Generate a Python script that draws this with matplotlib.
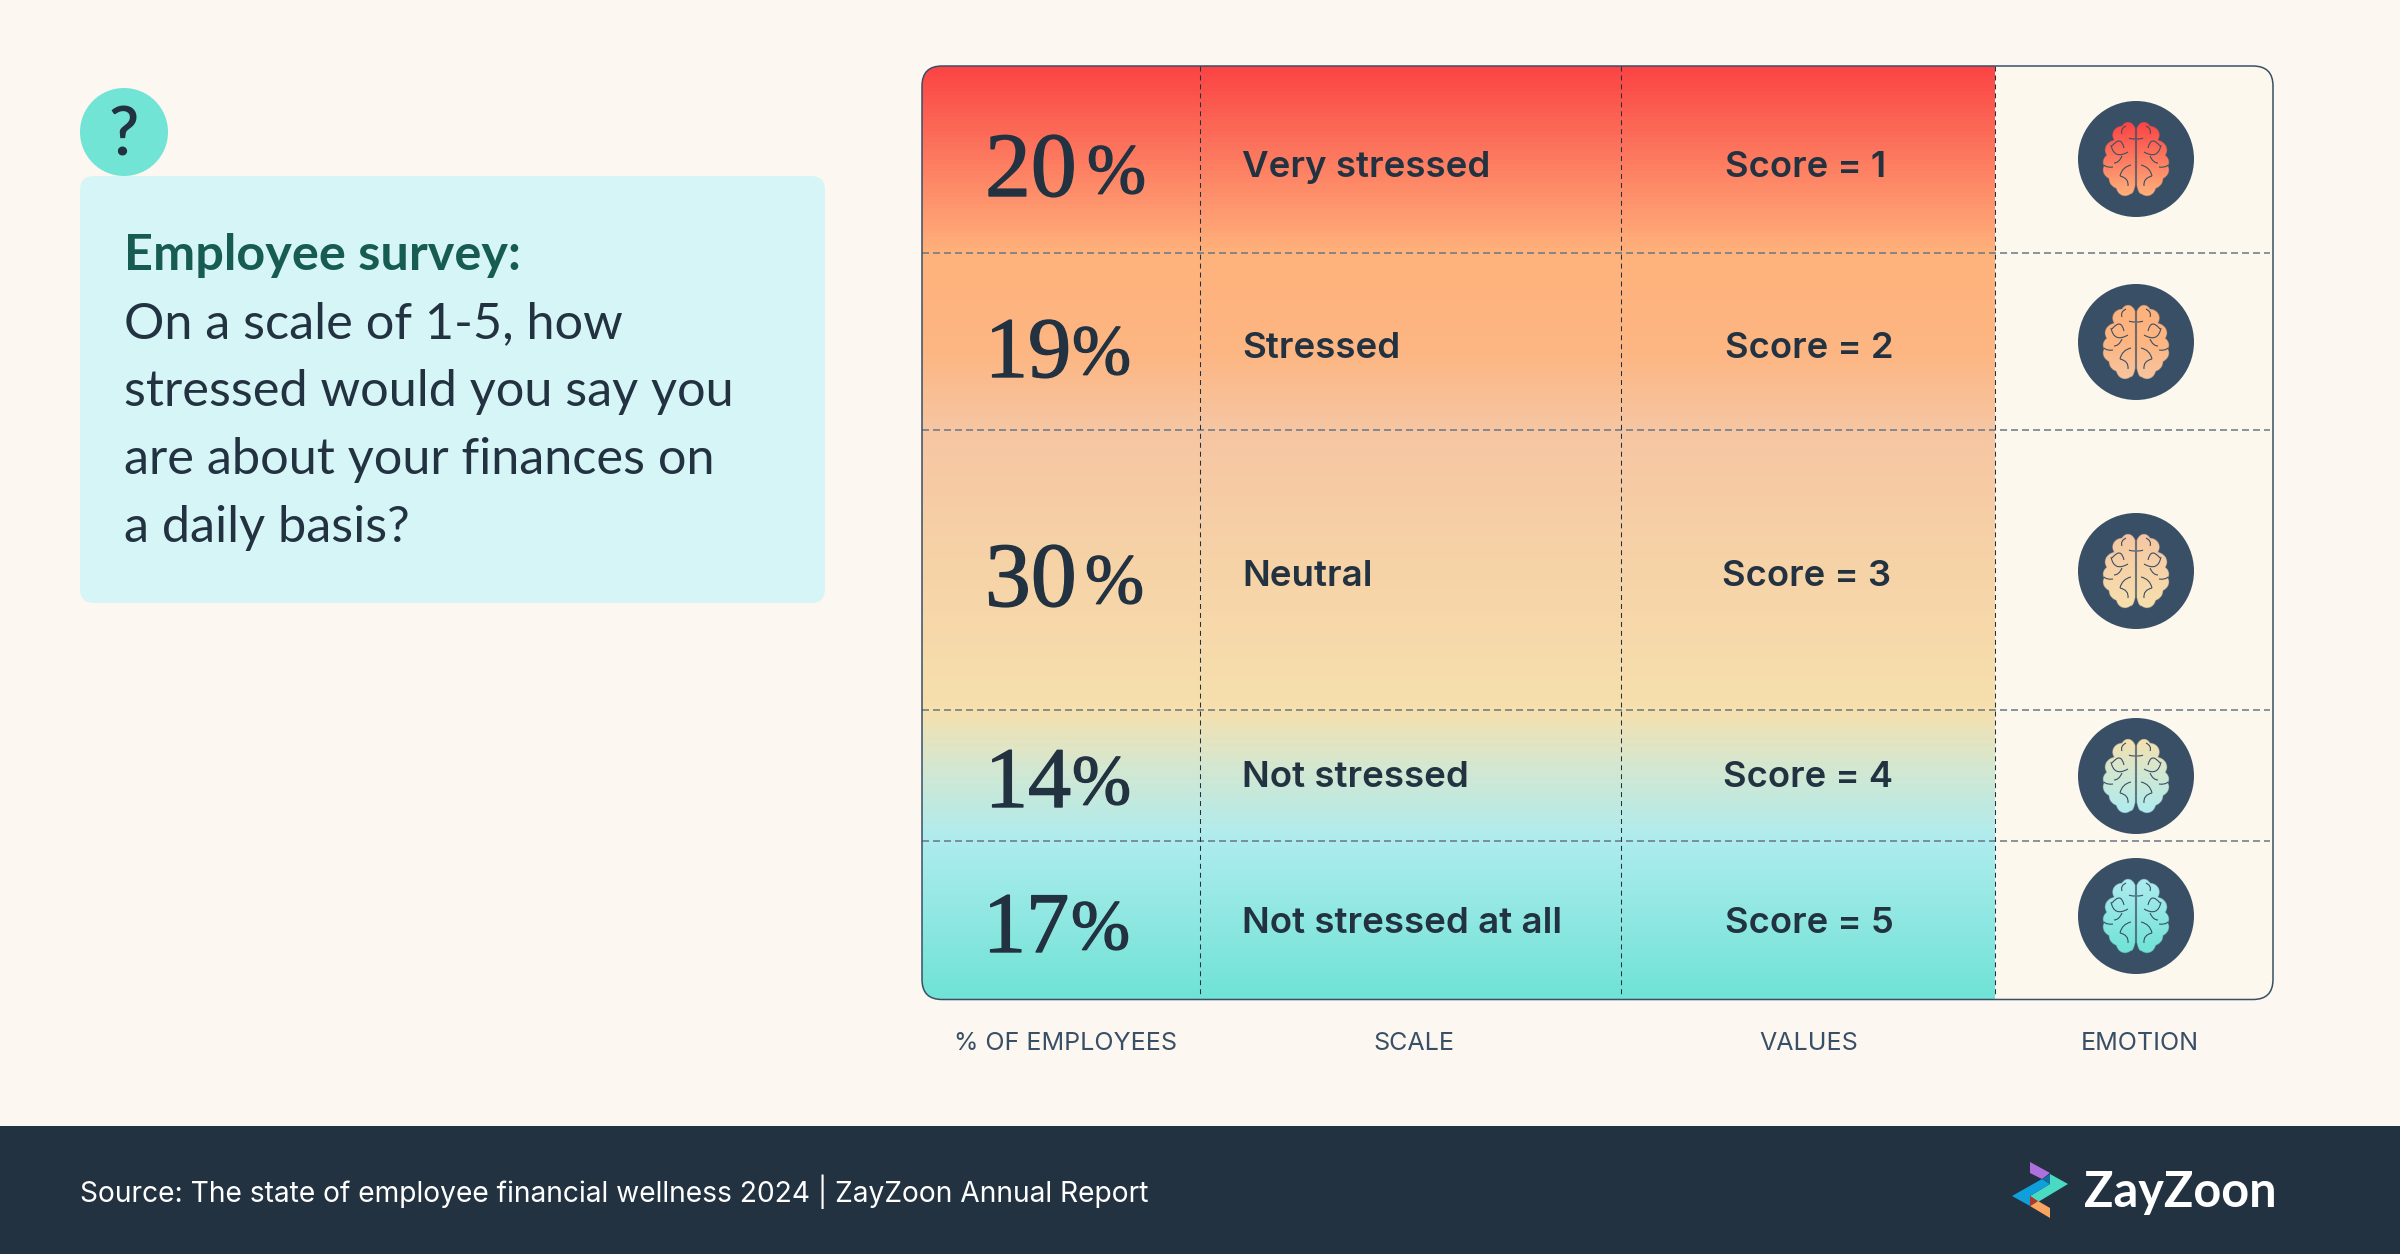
import numpy as np
import matplotlib
matplotlib.use("Agg")
import matplotlib.pyplot as plt
import matplotlib.patheffects as pe
from matplotlib.patches import FancyBboxPatch, Circle, Polygon, Rectangle, PathPatch
from matplotlib.path import Path
from matplotlib.colors import LinearSegmentedColormap

percentages = [20, 19, 30, 14, 17]
scale_labels = ["Very stressed", "Stressed", "Neutral", "Not stressed", "Not stressed at all"]
value_labels = ["Score = 1", "Score = 2", "Score = 3", "Score = 4", "Score = 5"]
column_labels = ["% OF EMPLOYEES", "SCALE", "VALUES", "EMOTION"]
question_title = "Employee survey:"
question_lines = ["On a scale of 1-5, how", "stressed would you say you", "are about your finances on", "a daily basis?"]
source_text = "Source: The state of employee financial wellness 2024 | ZayZoon Annual Report"

BG = "#FCF7F1"; DARK = "#233241"; NAVY = "#394F66"; CREAM = "#FCF8EE"
X0, X1, Y0, Y1 = 922, 2273, 66, 999.5
COLS = [1200, 1621, 1995]

fig = plt.figure(figsize=(24, 12.54), dpi=100, facecolor=BG)
ax = fig.add_axes([0, 0, 1, 1])
ax.set_xlim(0, 2400); ax.set_ylim(1254, 0); ax.axis("off")

edges = Y0 + np.concatenate([[0], np.cumsum(percentages)]) * (Y1 - Y0) / sum(percentages)

p = (edges - Y0) / (Y1 - Y0)
stop_pos = [p[0], p[1], (p[1] + p[2]) * 0.5 + 0.01, p[2], p[3], p[3] + 0.06, p[4], p[5]]
stops = ["#FB4444", "#FFB27C", "#FDB682", "#F6C6A2", "#F7E0AD", "#D6E7CF", "#AEECEF", "#70E3D6"]
cmap = LinearSegmentedColormap.from_list("g", list(zip(stop_pos, stops)))

frame = FancyBboxPatch((X0, Y0), X1 - X0, Y1 - Y0, boxstyle="round,pad=0,rounding_size=20",
                       fc=CREAM, ec="none", zorder=1)
ax.add_patch(frame)
im = ax.imshow(np.linspace(0, 1, 934)[:, None], cmap=cmap, vmin=0, vmax=1, aspect="auto",
               extent=(X0, COLS[2], Y1, Y0), zorder=2)
im.set_clip_path(frame)
ax.set_xlim(0, 2400); ax.set_ylim(1254, 0)
ax.add_patch(FancyBboxPatch((X0, Y0), X1 - X0, Y1 - Y0, boxstyle="round,pad=0,rounding_size=20",
                            fc="none", ec=NAVY, lw=1.1, zorder=5))

for y in edges[1:-1]:
    ax.plot([X0, X1 - 3], [y, y], color="#6A7683", lw=1.1, dashes=(4.6, 2.6), zorder=4)
for x in COLS:
    ax.plot([x, x], [Y0, Y1 - 4], color="#223040", lw=0.75, dashes=(4.8, 3.8), zorder=4)

pct_font = ["Liberation Serif", "DejaVu Serif"]
pct_x = [985, 985, 985, 985, 983]
pct_end = [1146, 1131, 1144, 1131, 1130]
digit_size = [66, 62, 66, 62, 62]
pct_base = [196, 377, 606, 807, 952]
lab_base = [177, 358, 586, 787, 933]
val_x = [1725, 1725, 1722, 1723, 1725]
icon_y = [159, 342, 571, 776, 916]

# brain silhouette mask (a union of lobes on each side of the midline)
lobes = [(8, -26, 8, 11), (14, -24, 9.5, 9), (20, -9, 11, 10), (22, 3, 11, 9), (21, 11, 12, 10),
         (16, 20, 11, 10), (11, 27, 9, 10), (5, 5, 6, 30), (10, 0, 14, 30)]
def brain_mask(n=320, half=40):
    xs = np.linspace(-half, half, n)
    X, Y = np.meshgrid(xs, xs)
    m = np.zeros_like(X, bool)
    for cx, cy, rx, ry in lobes:
        m |= (((np.abs(X) - cx) / rx) ** 2 + ((Y - cy) / ry) ** 2) <= 1
    m &= np.abs(X) > 0.7
    return m
mask = brain_mask()
folds = [((10, -33), (16, -30), (14, -25)), ((1, -20), (6, -20), (7, -21)), ((24, -13), (15, -24), (12, -11)),
         ((8, -7), (22, 1), (25, -14)), ((14, -3), (17, 4), (22, 4)), ((23, 8), (29, 9), (32, 6)),
         ((5, 6), (14, 8), (16, 17)), ((16, 17), (7, 19), (8, 27))]

for i, yc in enumerate(icon_y):
    xc = 2136
    ax.add_patch(Circle((xc, yc), 58, fc=NAVY, ec="none", zorder=3))
    t = np.clip((edges[i] + (np.linspace(-40, 40, 320) + 37) / 74 * (edges[i + 1] - edges[i]) - Y0) / (Y1 - Y0), 0, 1)
    rgba = cmap(t)[:, None, :].repeat(320, axis=1)
    rgba[..., 3] = mask.astype(float)
    ax.imshow(rgba, extent=(xc - 40, xc + 40, yc + 40, yc - 40), aspect="auto", zorder=4, interpolation="bilinear")
    for s in (-1, 1):
        for a, b, c in folds:
            verts = [(xc + s * q[0], yc + q[1]) for q in (a, b, c)]
            ax.add_patch(PathPatch(Path(verts, [Path.MOVETO, Path.CURVE3, Path.CURVE3]), fc="none", ec=NAVY, lw=0.8, zorder=5))
ax.set_xlim(0, 2400); ax.set_ylim(1254, 0)

heavy = [pe.withStroke(linewidth=1.0, foreground=DARK)]
for i in range(len(percentages)):
    ax.text(pct_x[i], pct_base[i], f"{percentages[i]}", family=pct_font, fontsize=digit_size[i], color=DARK,
            ha="left", va="baseline", zorder=6, path_effects=heavy)
    ax.text(pct_end[i], pct_base[i] - 3, "%", family=pct_font, fontsize=51, color=DARK,
            ha="right", va="baseline", zorder=6, path_effects=heavy)
    ax.text(1242, lab_base[i], scale_labels[i], family="Inter", fontsize=26.4, weight="semibold", color=DARK,
            ha="left", va="baseline", zorder=6)
    ax.text(val_x[i], lab_base[i], value_labels[i], family="Inter", fontsize=26.2, weight="semibold", color=DARK,
            ha="left", va="baseline", zorder=6)

for x, s in zip([1066, 1414, 1809, 2140], column_labels):
    ax.text(x, 1050, s, family="Inter", fontsize=18, color=NAVY, ha="center", va="baseline")

# question card
ax.add_patch(FancyBboxPatch((80, 176), 745, 427, boxstyle="round,pad=0,rounding_size=14", fc="#D6F5F6", ec="none"))
ax.add_patch(Circle((124, 132), 44, fc="#72E4D6", ec="none", zorder=3))
ax.text(124, 156, "?", family="Lato", fontsize=48, weight="semibold", color=DARK, ha="center", va="baseline", zorder=4)
ax.text(124, 270, question_title, family="Lato", fontsize=36.3, weight="bold", color="#175C52", va="baseline")
for y, s in zip([338, 406, 474, 542], question_lines):
    ax.text(124, y, s, family="Lato", fontsize=36.4, color=DARK, va="baseline")

# footer
ax.add_patch(Rectangle((0, 1126), 2400, 128, fc=DARK, ec="none"))
ax.text(80, 1192, source_text, family="Inter", fontsize=20.3, color="white", va="center")
ax.text(2084, 1207, "ZayZoon", family="Lato", fontsize=35, weight="bold", color="white", va="baseline")

# logo
L = lambda pts: [(2012 + x, 1120 + y) for x, y in pts]
ax.add_patch(Polygon(L([(18, 42), (38, 53), (30, 59), (18, 53)]), fc="#AE70DC", ec="none", zorder=3))
ax.add_patch(Polygon(L([(38, 54), (56, 64), (26, 82), (18, 76), (38, 64)]), fc="#4AD9C3", ec="none", zorder=3))
ax.add_patch(Polygon(L([(0, 76), (30, 59), (38, 64), (18, 76), (18, 86)]), fc="#0F9FDB", ec="none", zorder=3))
ax.add_patch(Polygon(L([(18, 86), (26, 81), (38, 88), (38, 98)]), fc="#F9A45F", ec="none", zorder=3))
ax.add_patch(Polygon(L([(18, 76), (26, 81), (18, 86)]), fc="#B0352A", ec="none", zorder=4))
ax.add_patch(Polygon(L([(30, 59), (38, 54), (38, 64)]), fc="#126FA0", ec="none", zorder=4))

fig.savefig("out.png", dpi=100, facecolor=BG)
